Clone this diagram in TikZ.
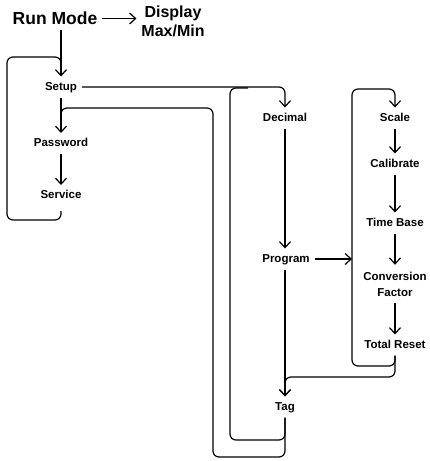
\documentclass[tikz,border=0pt]{standalone}
\usepackage{fontspec}
\setmainfont{Liberation Sans}
\usetikzlibrary{arrows.meta}
\begin{document}
\begin{tikzpicture}[x=1pt,y=-1pt,
  lbl/.style={font=\fontsize{11.5}{16}\selectfont\bfseries, inner sep=5pt, outer sep=0pt, text height=8.5pt, text depth=2.5pt},
  lbl2/.style={font=\fontsize{11.5}{16}\selectfont\bfseries, inner xsep=5pt, inner ysep=7pt, outer sep=0pt, align=center},
  big/.style={font=\fontsize{17.5}{20}\selectfont\bfseries, inner sep=5pt, outer sep=0pt},
  mid/.style={font=\fontsize{16}{19}\selectfont\bfseries, inner sep=5pt, outer sep=0pt, align=center},
  conn/.style={line width=1.2pt, rounded corners=6pt},
  arr/.style={conn, -{Straight Barb[length=6pt,width=11pt,line width=1.2pt]}}]
\useasboundingbox (0,0) rectangle (429,461);
% nodes
\node[big] (run) at (55,18.5) {Run Mode};
\node[mid] (disp) at (173,21.5) {Display\\Max/Min};
\node[lbl] (setup) at (61,87) {Setup};
\node[lbl] (pass) at (61,143.5) {Password};
\node[lbl] (serv) at (61,195.5) {Service};
\node[lbl] (dec) at (285,118) {Decimal};
\node[lbl] (prog) at (286,259) {Program};
\node[lbl] (tag) at (285,407) {Tag};
\node[lbl] (scale) at (395,118) {Scale};
\node[lbl] (cal) at (395,164) {Calibrate};
\node[lbl] (tb) at (395,223) {Time Base};
\node[lbl2] (conv) at (395,284) {Conversion\\Factor};
\node[lbl] (tr) at (395,345) {Total Reset};
% connectors
\draw[arr] (run.east) -- (run.east -| disp.west);
\draw[arr] (run.south -| setup.north) -- (setup.north);
\draw[conn] ([yshift=-5pt]serv.south) -- (61,220) -- (7,220) -- (7,57) -- (61,57) -- (61,72);
\draw[arr] (setup.east) -| (dec.north);
\draw[arr] (setup.south) -- (pass.north);
\draw[arr] (pass.south) -- (serv.south |- serv.north);
\draw[conn] (tag.south) -- (285,457) -- (213,457) -- (213,108) -- (61,108) -- (61,122);
\draw[conn] (tag.south) -- (285,440) -- (230,440) -- (230,88) -- (248,88);
\draw[arr] (dec.south) -- (dec.south |- prog.north);
\draw[arr] (prog.east) -- (352,259);
\draw[arr] (prog.south -| tag.north) -- (tag.north);
\draw[arr] (tr.south) -- (395,366) -- (352,366) -- (352,89) -- (395,89) -- (scale.north);
\draw[arr] (tr.south) -- (395,377) -- (285,377) -- (tag.north);
\draw[arr] (scale.south) -- (cal.north);
\draw[arr] (cal.south) -- (tb.north);
\draw[arr] (tb.south) -- (conv.north);
\draw[arr] (conv.south) -- (tr.north);
\end{tikzpicture}
\end{document}
